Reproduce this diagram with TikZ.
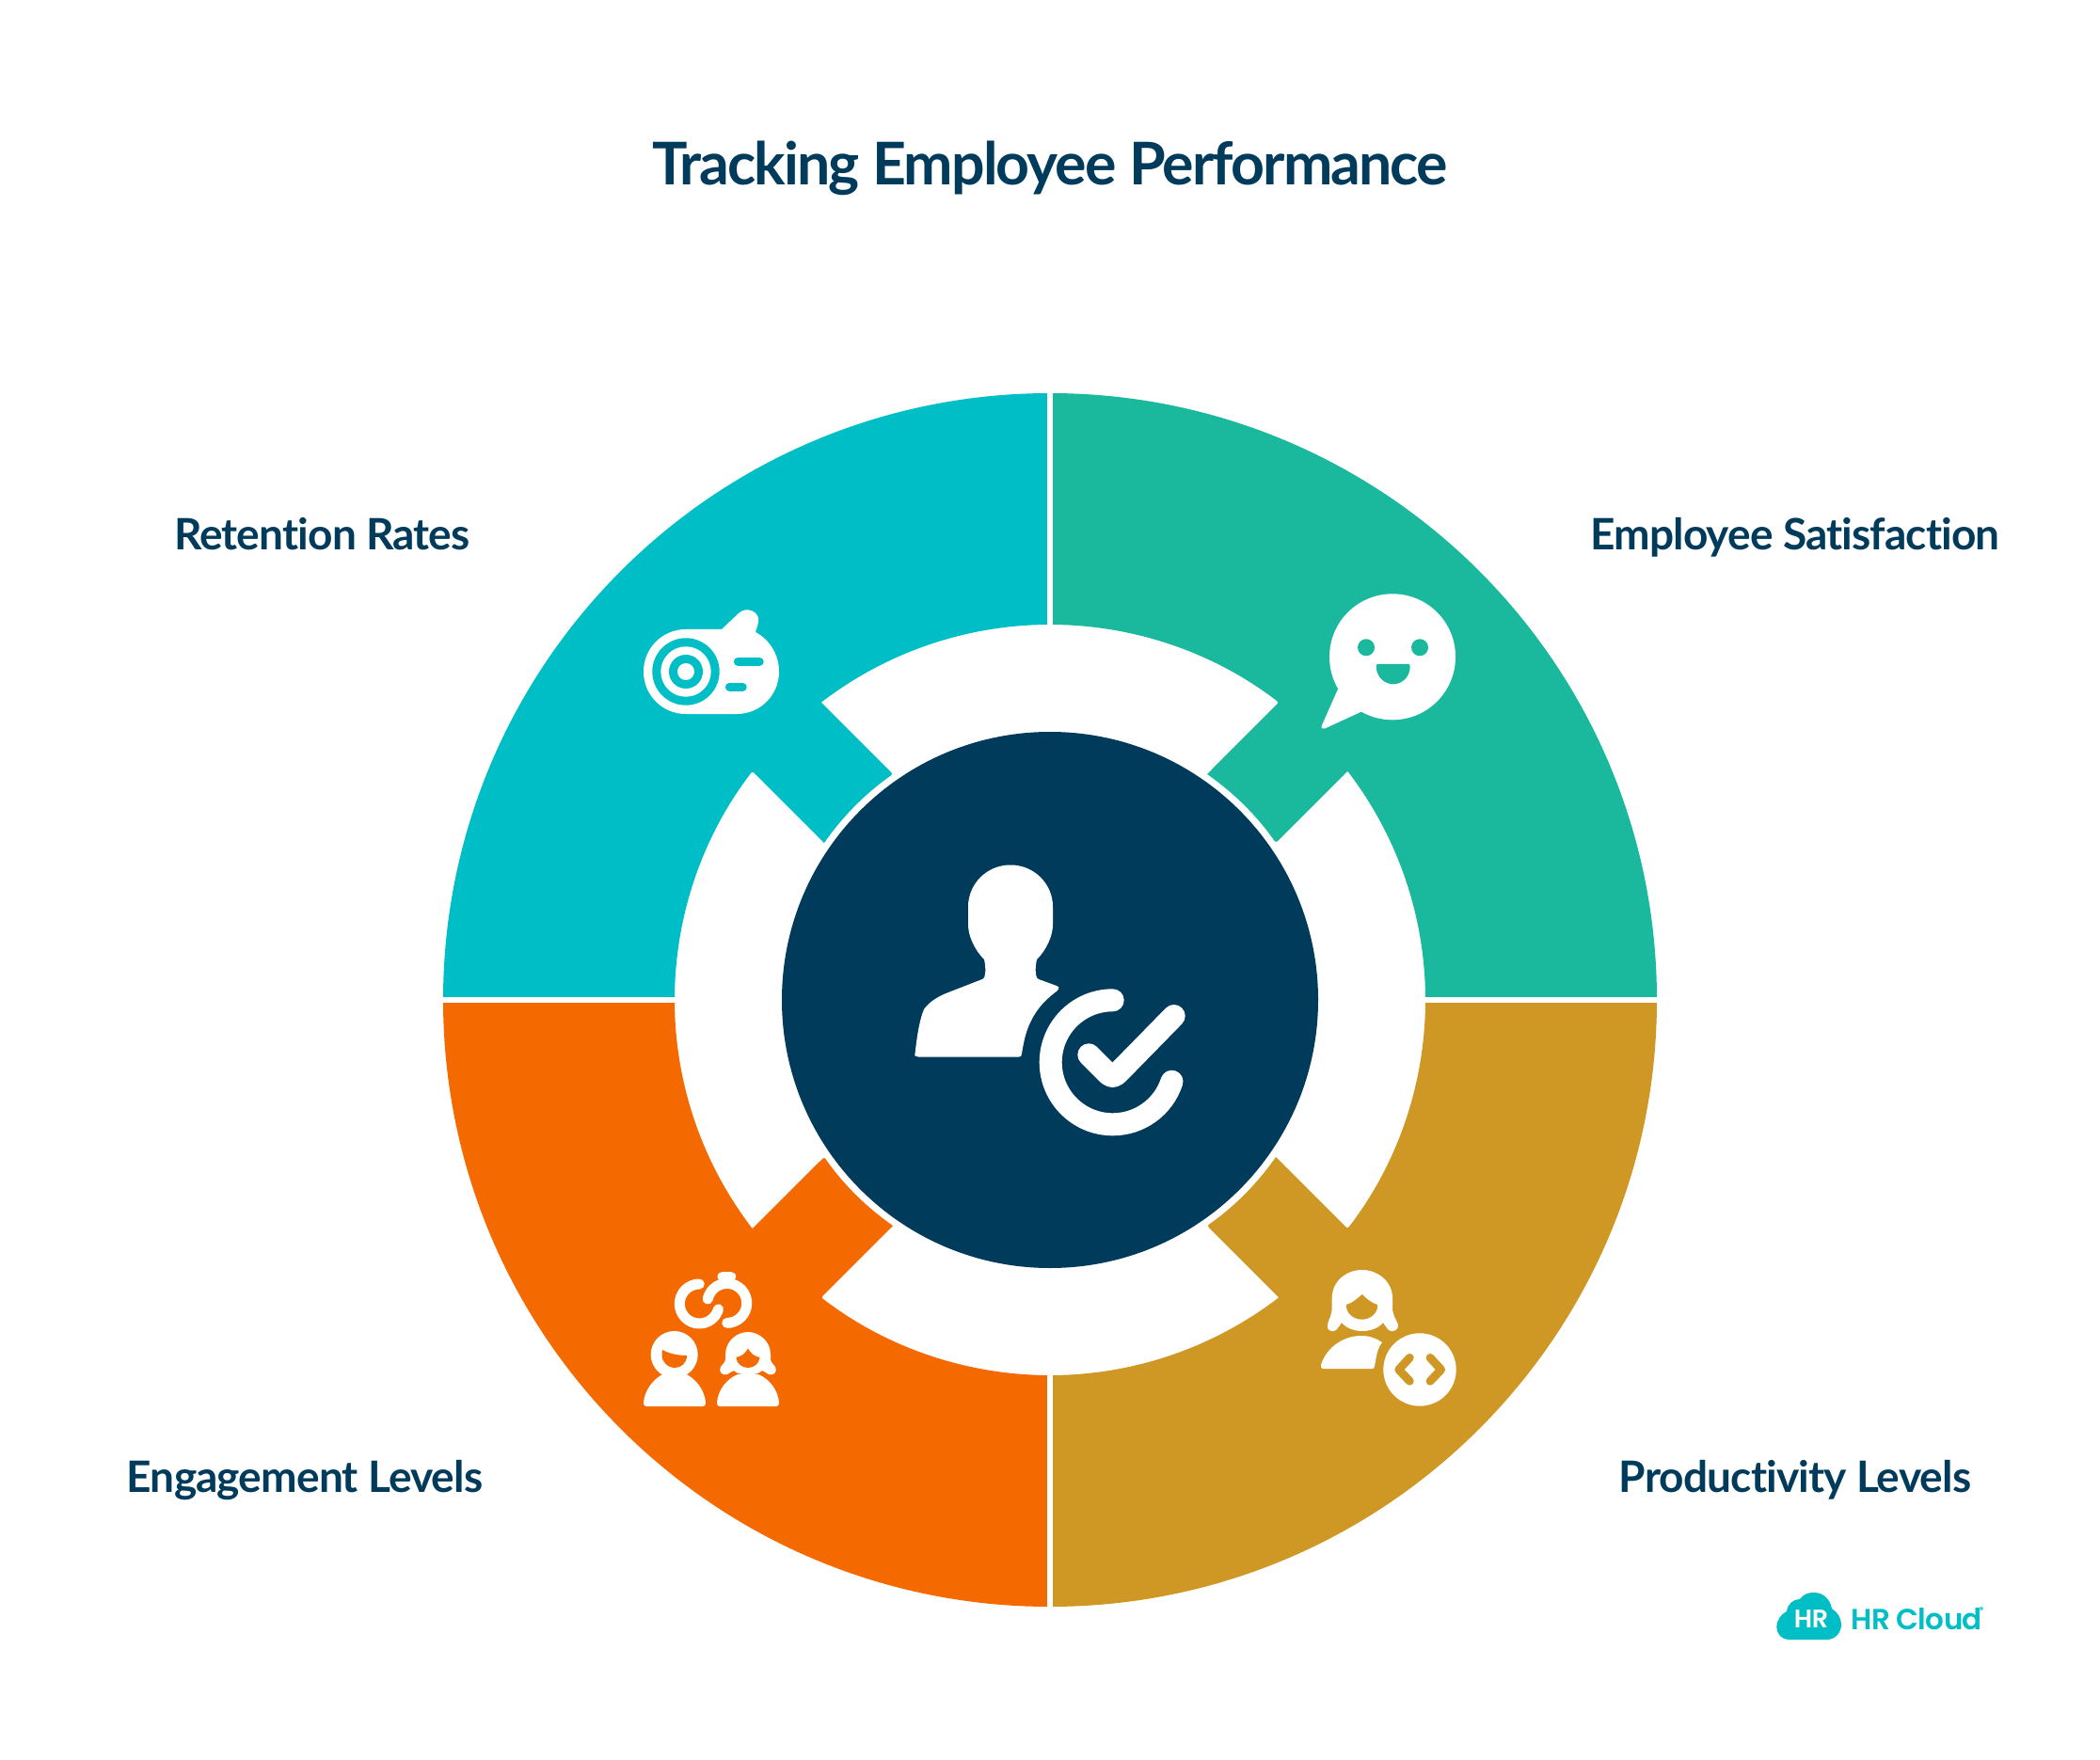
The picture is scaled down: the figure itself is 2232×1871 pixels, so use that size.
\documentclass[tikz,border=0pt]{standalone}
\usepackage{fontspec}
\setmainfont{Lato}[Ligatures=NoCommon]
\newfontfamily\labelfont{Lato}[LetterSpace=-1.9,Ligatures=NoCommon]
\newfontfamily\titlefont{Lato}[LetterSpace=-3,Ligatures=NoCommon]
\newfontfamily\logofont{Poppins SemiBold}[LetterSpace=-2]
\definecolor{cteal}{HTML}{00BEC5}
\definecolor{cgreen}{HTML}{1AB89D}
\definecolor{cgold}{HTML}{CF9824}
\definecolor{corange}{HTML}{F56A00}
\definecolor{cnavy}{HTML}{003B5C}
\newcommand{\quadrant}[2]{%
  \begin{scope}[shift={(1116,1063)},y=0.5pt,rotate=#2]
    \fill[#1] (180:645) arc[start angle=180,end angle=90,radius=645]
      -- (90:399) arc[start angle=90,end angle=127.56,radius=399]
      [rounded corners=1.2pt] -- (124.83:292.4) [sharp corners] arc[start angle=124.83,end angle=145.17,radius=292.4]
      [rounded corners=1.2pt] -- (142.44:399) [sharp corners] arc[start angle=142.44,end angle=180,radius=399] -- cycle;
  \end{scope}}
\tikzset{
  labeltext/.style={font=\labelfont\bfseries\fontsize{23}{28}\selectfont,text=cnavy,inner sep=0pt,anchor=base},
  titletext/.style={font=\titlefont\bfseries\fontsize{31.3}{38}\selectfont,text=cnavy,inner sep=0pt,anchor=base},
  gapline/.style={draw=white,line width=2.7pt},
  holestroke/.style={line width=#1,line cap=round,line join=round},
}
\begin{document}
\begin{tikzpicture}[x=0.5pt,y=-0.5pt]
\useasboundingbox (0,0) rectangle (2232,1871);
\fill[white] (0,0) rectangle (2232,1871);
\quadrant{cteal}{0}
\quadrant{cgreen}{-90}
\quadrant{cgold}{-180}
\quadrant{corange}{-270}
\draw[gapline] (1116,410) -- (1116,672);
\draw[gapline] (1116,1454) -- (1116,1716);
\draw[gapline] (463,1063) -- (725,1063);
\draw[gapline] (1507,1063) -- (1769,1063);
\fill[cnavy] (1116,1063) circle[radius=285];
\node[titletext] (title) at (1116,196.5) {Tracking Employee Performance};
\node[labeltext] (retention) at (342.5,585) {Retention Rates};
\node[labeltext] (satisfaction) at (1908,585) {Employee Satisfaction};
\node[labeltext] (engagement) at (324,1586) {Engagement Levels};
\node[labeltext] (productivity) at (1908,1586) {Productivity Levels};
\fill[white] (972.3,1123) .. controls (974,1105) and (977,1085) .. (982,1073)
  .. controls (988,1064) and (1000,1058) .. (1008,1055)
  -- (1044,1041) .. controls (1048,1040) and (1048,1028) .. (1046,1020)
  .. controls (1036,1010) and (1029,995) .. (1029,983)
  -- (1029,964) .. controls (1029,939.5) and (1049,919.5) .. (1074,919.5)
  .. controls (1099,919.5) and (1119,939.5) .. (1119,964)
  -- (1119,983) .. controls (1119,995) and (1112,1010) .. (1102,1020)
  .. controls (1100,1028) and (1100,1040) .. (1104,1041)
  -- (1123,1048) .. controls (1126,1049) and (1126,1051) .. (1124,1053)
  .. controls (1112,1062) and (1104,1070) .. (1097,1083)
  .. controls (1090,1096) and (1088,1108) .. (1086,1120)
  .. controls (1086,1122.5) and (1085,1123.5) .. (1083,1123.5)
  -- (976,1123.5) .. controls (973,1123.5) and (972,1122) .. (972.3,1120) -- cycle;
\draw[white,holestroke=12pt] (1182.7,1063.3) arc[start angle=-90,end angle=-342,radius=66];
\draw[white,holestroke=12pt] (1157.3,1121.3) -- (1176.7,1140.7) .. controls (1181,1145) and (1184,1145) .. (1188.3,1140.7) -- (1247.7,1080);
\fill[white] (729,669) -- (767,669) -- (785,652) .. controls (793,644) and (808,650) .. (806,661)
  .. controls (805.5,665) and (804,668) .. (803,672)
  .. controls (818,680) and (828,696) .. (828,714)
  .. controls (828,739) and (808,759) .. (783,759) -- (729,759)
  .. controls (704,759) and (684,739) .. (684,714)
  .. controls (684,689) and (704,669) .. (729,669) -- cycle;
\fill[cteal] (729,714) circle[radius=35.7];
\fill[white] (729,714) circle[radius=26.7];
\fill[cteal] (729,714) circle[radius=18];
\fill[white] (729,714) circle[radius=9];
\draw[cteal,holestroke=4.4pt] (784.3,703.3) -- (807.3,703.3);
\draw[cteal,holestroke=4.4pt] (775.3,730.3) -- (789.3,730.3);
\fill[white] (1480,698.3) circle[radius=67];
\fill[white] (1421.7,733.3) -- (1405,771) .. controls (1403.5,774) and (1406,775.5) .. (1408,774.5) -- (1446.7,756.7) -- (1450,720) -- cycle;
\fill[cgreen] (1452,688.3) circle[radius=9];
\fill[cgreen] (1509,688.3) circle[radius=9];
\fill[cgreen] (1462.7,708) .. controls (1462.7,720) and (1472,727.3) .. (1480.7,727.3)
  .. controls (1490,727.3) and (1498.7,720) .. (1498.7,708)
  .. controls (1498.7,706.5) and (1498,706) .. (1497,706) -- (1464.5,706)
  .. controls (1463,706) and (1462.7,707) .. (1462.7,708) -- cycle;
\draw[white,holestroke=5.5pt] (743.3,1365) arc[start angle=-90,end angle=-344,radius=21];
\draw[white,holestroke=5.5pt] (752.2,1381) arc[start angle=-168,end angle=90,radius=21];
\draw[white,holestroke=5.5pt] (768,1357.3) -- (776.7,1357.3);
\fill[white] (716.7,1440) circle[radius=25];
\fill[white] (684,1491) .. controls (685,1478) and (694,1466) .. (706,1460) -- (728,1460)
  .. controls (740,1466) and (749,1478) .. (750,1491)
  .. controls (750,1494) and (749,1495) .. (747,1495) -- (687,1495)
  .. controls (685,1495) and (684,1494) .. (684,1491) -- cycle;
\fill[corange] (704,1435) .. controls (711,1439) and (721,1441) .. (730,1441)
  .. controls (730,1449) and (724,1454) .. (717.5,1454)
  .. controls (710,1454) and (703,1448) .. (703.5,1440) .. controls (703.5,1437) and (703.5,1435.5) .. (704,1435) -- cycle;
\fill[white] (771,1440) .. controls (771,1425) and (784,1416) .. (795,1416)
  .. controls (806,1416) and (819,1425) .. (819,1440) -- (819,1445)
  .. controls (819,1448) and (822,1450) .. (824,1453)
  .. controls (827,1458) and (822,1463) .. (817,1461)
  .. controls (814,1460) and (812,1457) .. (810,1457)
  .. controls (805,1463) and (785,1463) .. (780,1457)
  .. controls (778,1457) and (776,1460) .. (773,1461)
  .. controls (768,1463) and (763,1458) .. (766,1453)
  .. controls (768,1450) and (771,1448) .. (771,1445) -- cycle;
\fill[white] (762,1491) .. controls (763,1478) and (772,1466) .. (784,1461) -- (806,1461)
  .. controls (818,1466) and (827,1478) .. (828,1491)
  .. controls (828,1494) and (827,1495) .. (825,1495) -- (765,1495)
  .. controls (763,1495) and (762,1494) .. (762,1491) -- cycle;
\fill[corange] (782.3,1443) .. controls (788,1442) and (792,1439) .. (795,1433.5)
  .. controls (798,1439) and (802,1442) .. (807.5,1443)
  .. controls (807,1450) and (801,1454) .. (795,1454)
  .. controls (789,1454) and (783,1450) .. (782.3,1443) -- cycle;
\fill[white] (1415.7,1380) .. controls (1415.7,1362) and (1431,1350) .. (1447.7,1350)
  .. controls (1464,1350) and (1480,1362) .. (1480,1380) -- (1480,1390)
  .. controls (1480,1398) and (1484,1403) .. (1486,1408)
  .. controls (1487,1414) and (1480,1417) .. (1476,1414)
  .. controls (1474,1412) and (1472,1409) .. (1470,1406)
  .. controls (1460,1418) and (1436,1418) .. (1426,1406)
  .. controls (1424,1409) and (1422,1412) .. (1420,1414)
  .. controls (1416,1417) and (1409,1414) .. (1411,1408)
  .. controls (1412,1403) and (1415.7,1398) .. (1415.7,1390) -- cycle;
\fill[cgold] (1431,1387) .. controls (1438,1385) and (1443,1380) .. (1447.7,1376)
  .. controls (1452,1380) and (1457,1385) .. (1464,1387)
  .. controls (1465,1396) and (1456,1402.7) .. (1447.7,1402.7)
  .. controls (1439,1402.7) and (1430,1396) .. (1431,1387) -- cycle;
\fill[white] (1404,1451) .. controls (1410,1432) and (1428,1420) .. (1447,1420)
  .. controls (1456,1420) and (1463,1423) .. (1469,1427)
  .. controls (1463,1435) and (1463,1443) .. (1461,1452)
  .. controls (1461,1454) and (1460,1455) .. (1459,1455) -- (1406,1455)
  .. controls (1404,1455) and (1404,1453) .. (1404,1451) -- cycle;
\fill[white] (1509,1456) circle[radius=38.7];
\draw[cgold,holestroke=4.4pt] (1498.3,1443.3) -- (1486.7,1456) -- (1498.3,1468.3);
\draw[cgold,holestroke=4.4pt] (1520,1443.3) -- (1531.7,1456) -- (1520,1468.3);
\fill[cteal] (1902,1743) .. controls (1893,1743) and (1888.3,1736) .. (1888.3,1730)
  .. controls (1888.3,1722) and (1893,1716) .. (1899,1713)
  .. controls (1900,1705) and (1906,1700) .. (1913,1700)
  .. controls (1917,1694) and (1923,1693) .. (1928,1693)
  .. controls (1938,1693) and (1945,1700) .. (1947,1710)
  .. controls (1953,1714) and (1957,1720) .. (1957,1727)
  .. controls (1957,1736) and (1950,1743) .. (1942,1743) -- cycle;
\node[font=\logofont\fontsize{13.5}{14}\selectfont,text=white,inner sep=0pt] (logomark) at (1925,1721.5) {HR};
\node[font=\logofont\fontsize{15.5}{17}\selectfont,text=cteal,inner sep=0pt,anchor=west] (logotext) at (1967,1721.5) {HR Cloud};
\node[font=\logofont\fontsize{5}{6}\selectfont,text=cteal,inner sep=0pt] (logomarkr) at (2106,1712) {®};
\end{tikzpicture}
\end{document}
